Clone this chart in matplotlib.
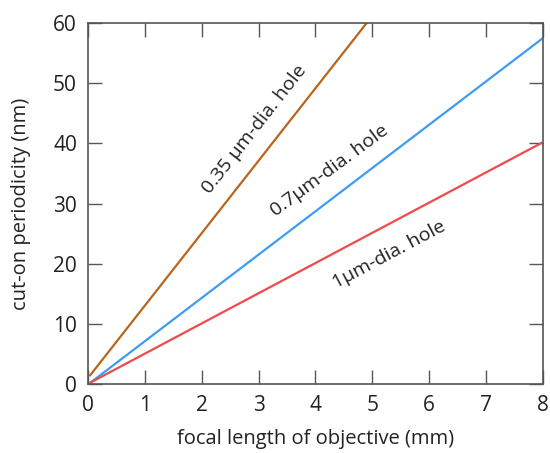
import matplotlib
matplotlib.use("Agg")
import matplotlib.pyplot as plt

plt.rcParams['font.family'] = ['Open Sans', 'DejaVu Sans']

# line endpoints
x_035 = [0.04, 4.9]
y_035 = [1.5, 60]
x_07 = [0.05, 8]
y_07 = [0.3, 57.5]
x_1 = [0.05, 8]
y_1 = [0.3, 40.2]

labels = ["0.35 μm-dia. hole", "0.7μm-dia. hole", "1μm-dia. hole"]

fig = plt.figure(figsize=(5.5, 4.53), dpi=100)
ax = fig.add_axes([0.16, 0.152, 0.827, 0.797])

ax.plot(x_035, y_035, color='#b8651e', linewidth=1.6)
ax.plot(x_07, y_07, color='#3d9cf5', linewidth=1.6)
ax.plot(x_1, y_1, color='#f04a4a', linewidth=1.6)

ax.text(2.92, 42.4, labels[0], rotation=52, ha='center', va='center', fontsize=14, color='#222222')
ax.text(4.25, 35.4, labels[1], rotation=36.5, ha='center', va='center', fontsize=14, color='#222222')
ax.text(5.3, 21.6, labels[2], rotation=28, ha='center', va='center', fontsize=14, color='#222222')

ax.set_xlim(0, 8)
ax.set_ylim(0, 60)
ax.set_xticks(range(0, 9))
ax.set_yticks(range(0, 61, 10))
ax.tick_params(direction='in', length=10, width=1, color='#555555', pad=8,
               top=True, right=True, labelsize=15, labelcolor='#222222')
for s in ax.spines.values():
    s.set_color('#555555')
    s.set_linewidth(1.2)

ax.set_xlabel("focal length of objective (mm)", fontsize=14.5, color='#222222', labelpad=9)
ax.set_ylabel("cut-on periodicity (nm)", fontsize=14.5, color='#222222', labelpad=16)

fig.savefig("out.png", dpi=100)
